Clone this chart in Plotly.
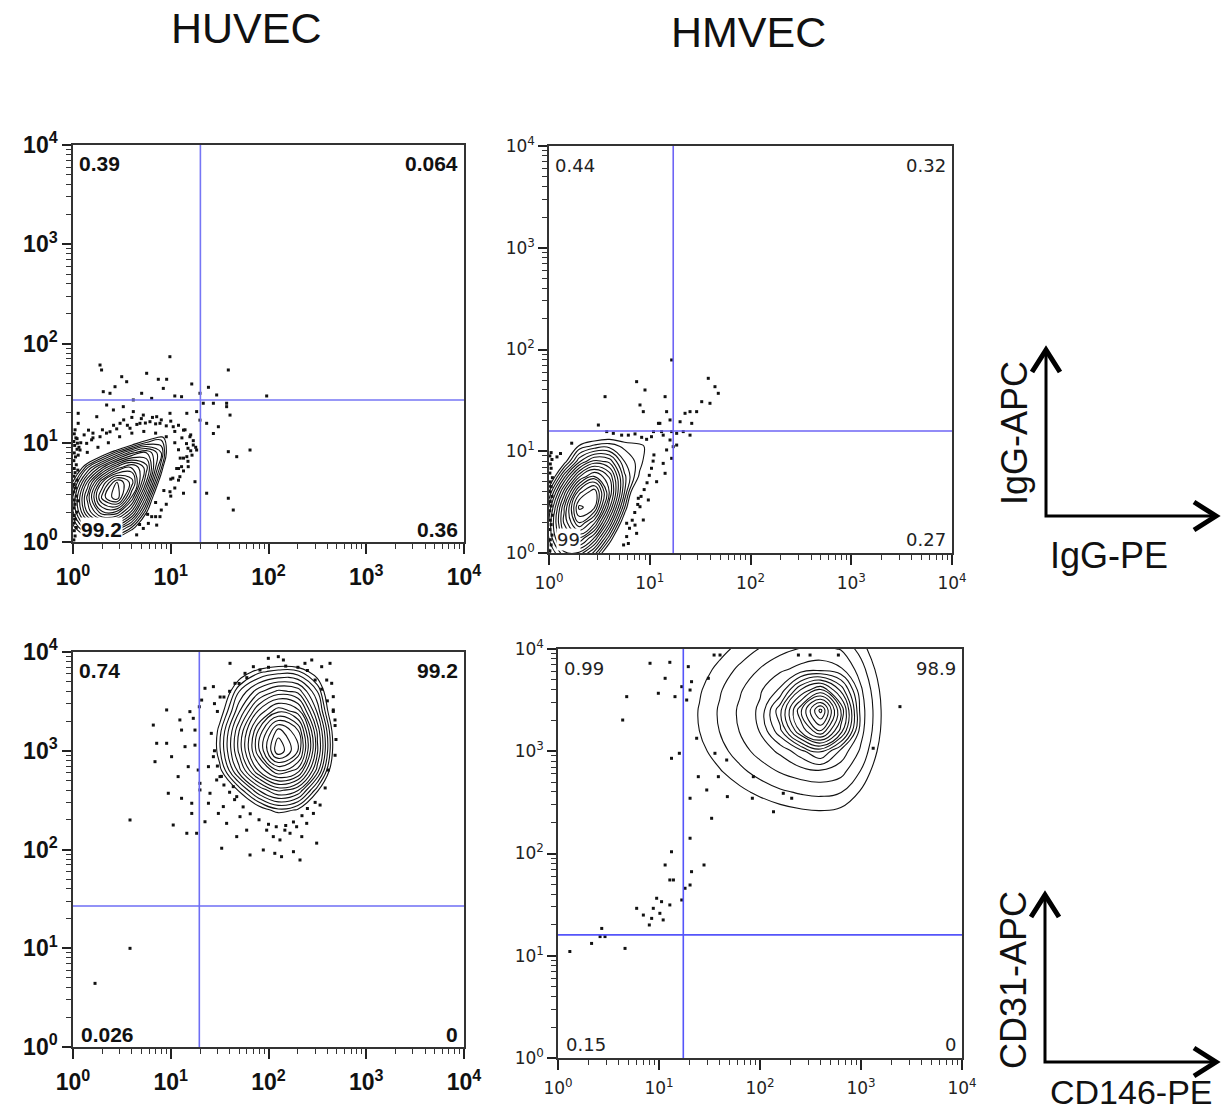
import plotly.graph_objects as go

W, H = 1231, 1116

# ---------------- data ----------------
TICK_VALS = [1, 10, 100, 1000, 10000]
TICK_TEXT = ["10<sup>0</sup>", "10<sup>1</sup>", "10<sup>2</sup>", "10<sup>3</sup>", "10<sup>4</sup>"]
MINOR_VALS = [2, 3, 4, 5, 6, 7, 8, 9, 20, 30, 40, 50, 60, 70, 80, 90,
              200, 300, 400, 500, 600, 700, 800, 900,
              2000, 3000, 4000, 5000, 6000, 7000, 8000, 9000]

COLUMN_TITLES = ["HUVEC", "HMVEC"]
ROW_X_LABELS = ["IgG-PE", "CD146-PE"]
ROW_Y_LABELS = ["IgG-APC", "CD31-APC"]

# quadrant percentages: upper-left, upper-right, lower-left, lower-right
P1_QUAD = ["0.39", "0.064", "99.2", "0.36"]
P2_QUAD = ["0.44", "0.32", "99", "0.27"]
P3_QUAD = ["0.74", "99.2", "0.026", "0"]
P4_QUAD = ["0.99", "98.9", "0.15", "0"]

# quadrant gates (x, y)
P1_GATE = [20.1, 27.0]
P2_GATE = [17.1, 15.8]
P3_GATE = [19.6, 26.8]
P4_GATE = [17.4, 16.0]

# ---- estimated density grids (rows = y, columns = x) ----
P1_GX = [0.708, 1, 1.413, 1.995, 2.818, 3.981, 5.623, 7.943, 11.22, 15.85]
P1_GY = [0.708, 1, 1.413, 1.995, 2.818, 3.981, 5.623, 7.943, 11.22, 15.85]
P1_Z = [
    [-11.5, -8.6, -6.9, -6.7, -7.9, -10.4, -14, -18, -23, -32],
    [-7.6, -3.8, -1.3, -0.4, -1.6, -4.3, -8.3, -13, -21, -31],
    [-4.8, 0.1, 3.8, 5.6, 4.8, 1.6, -2.9, -10, -19, -30],
    [-3.4, 2.4, 7.7, 11.3, 11.1, 7.2, 0.7, -7.3, -17, -29],
    [-3.7, 2.6, 8.9, 15.0, 17.3, 11.4, 4.2, -4.3, -14.6, -27],
    [-5.6, 0.7, 6.8, 12.6, 16.6, 14.1, 7.4, -1.1, -11.8, -26],
    [-8.8, -3.0, 2.5, 6.4, 10.0, 11.8, 9.0, 1.9, -8.6, -23],
    [-13, -7.6, -4.3, -1.1, 2.2, 5.2, 6.5, 3.7, -5, -20],
    [-17.7, -15, -12.8, -10, -7.3, -4.1, -0.8, 1.1, -2.0, -15],
    [-26, -24, -23, -21, -19, -16, -13, -8.7, -4.8, -9],
]

P2_GX = [0.708, 1, 1.413, 1.995, 2.818, 3.981, 5.623, 7.943, 11.22, 15.85]
P2_GY = [0.501, 0.708, 1, 1.413, 1.995, 2.818, 3.981, 5.623, 7.943, 11.22, 15.85]
P2_Z = [
    [-4.9, -2.2, -1.3, -2.7, -5.9, -10.6, -16, -22, -28, -35],
    [-2.8, 0.8, 2.6, 1.8, -1.4, -6.3, -12, -18, -25, -31],
    [-1.5, 3.2, 6.2, 6.3, 3.1, -2.1, -8.1, -14.6, -21, -28],
    [-1.1, 4.6, 9.1, 10.6, 7.5, 1.9, -4.5, -11.2, -18, -25],
    [-1.6, 4.8, 10.7, 14.6, 11.8, 5.6, -1.2, -8.1, -15, -22],
    [-2.9, 3.7, 10.4, 16.8, 15.7, 8.7, 1.6, -5.5, -12.6, -19.8],
    [-5.1, 1.5, 8.0, 14.1, 16.3, 10.4, 3.5, -3.6, -10.7, -17.8],
    [-8.1, -1.8, 4.2, 9.4, 11.9, 9.4, 3.8, 0.2, -6, -14],
    [-11.6, -5.7, -0.2, 4.3, 6.9, 6.2, 2.5, 1.0, -1.5, -8],
    [-15.6, -10, -5, 0.8, 1.8, 2.1, 1.2, 0.9, -0.5, -8],
    [-19.9, -14.6, -9.9, -4, -2, -1.5, -1.5, -2, -4, -10],
]

P3_GX = [19.95, 31.62, 50.12, 79.43, 125.9, 199.5, 316.2, 501.2, 794.3]
P3_GY = [158.5, 251.2, 398.1, 631.0, 1000, 1585, 2512, 3981, 6310, 10000]
P3_Z = [
    [-14, -10.3, -7.2, -5.0, -4.0, -4.5, -7.3, -11.9, -17.7],
    [-10.3, -6.1, -3.5, -0.5, 1.2, 0.3, -3.5, -8.0, -14.5],
    [-7.3, -3.2, 0.8, 4.5, 6.8, 5.6, 0.8, -4.8, -11.9],
    [-5.2, 0.0, 5.1, 9.6, 12.5, 11.1, 5.0, -2.4, -10.1],
    [-4.2, 1.3, 6.8, 12.3, 17.4, 14.5, 6.7, -1.3, -9.2],
    [-4.4, 1.1, 6.5, 11.7, 16.0, 13.7, 6.3, -1.5, -9.4],
    [-5.6, -0.5, 4.4, 8.7, 11.3, 10.0, 4.3, -2.8, -10.4],
    [-7.7, -2.0, 2.5, 5.2, 6.8, 6.2, 2.5, -3.5, -12.0],
    [-10.4, -5.0, -0.8, 1.2, 2.0, 1.8, -0.5, -6.0, -14.0],
    [-13.7, -10, -6.9, -4.7, -3.6, -4.1, -7.0, -11.7, -17.5],
]

P4_GX = [15.85, 25.12, 39.81, 63.10, 100, 158.5, 251.2, 398.1, 631.0, 1000, 1585, 2512]
P4_GY = [158.5, 251.2, 398.1, 631.0, 1000, 1585, 2512, 3981, 6310, 10000, 15850]
P4_Z = [
    [-3.55, -3.0, -2.5, -2.07, -1.71, -1.42, -1.24, -1.15, -1.29, -1.96, -3.05, -4.42],
    [-2.75, -2.14, -1.58, -1.09, -0.66, -0.33, -0.11, -0.01, -0.17, -0.96, -2.19, -3.69],
    [-2.03, -1.36, -0.74, -0.16, 0.33, 0.74, 1.01, 1.14, 0.93, -0.01, -1.42, -3.05],
    [-1.43, -0.70, 0.0, 0.66, 1.25, 1.76, 2.12, 2.29, 2.0, 0.83, -0.76, -2.54],
    [-0.99, -0.20, 0.57, 1.32, 2.03, 2.67, 3.8, 5.1, 3.05, 1.53, -0.27, -2.15],
    [-0.73, 0.10, 0.92, 1.74, 2.55, 4.68, 8.2, 10.6, 7.0, 1.97, 0.03, -1.94],
    [-0.68, 0.16, 1.0, 1.84, 2.67, 5.5, 9.5, 13.2, 8.1, 2.07, 0.09, -1.89],
    [-0.82, -0.01, 0.80, 1.6, 2.37, 3.45, 6.5, 8.2, 5.5, 1.82, -0.07, -2.0],
    [-1.14, -0.37, 0.37, 1.09, 1.75, 2.33, 2.77, 2.99, 2.63, 1.28, -0.44, -2.28],
    [-1.62, -0.91, -0.23, 0.39, 0.95, 1.42, 1.75, 1.90, 1.65, 0.56, -0.97, -2.69],
    [-2.23, -1.58, -0.97, -0.42, 0.05, 0.43, 0.69, 0.81, 0.62, -0.28, -1.63, -3.22],
]

# ---- outlier events (x, y) ----
P1_DOTS = [
    (9.8, 73.6), (1.89, 60.7), (1.96, 54.1), (5.67, 50.1), (3.15, 46.3), (7.46, 43.6), (9.08, 43.6),
    (38.8, 54.1), (3.54, 41.2), (2.69, 36.7), (16.4, 39.1), (24.3, 36.2), (8.39, 35.3), (5.04, 31.5),
    (29.5, 30.3), (11.0, 29.6), (19.9, 31.5), (95.8, 29.6), (2.39, 31.5), (2.04, 32.7), (4.14, 27.0),
    (6.38, 28.0), (12.9, 29.1), (21.5, 25.0), (27.3, 25.0), (37.3, 23.1), (40.4, 19.0), (37.3, 25.0),
    (18.4, 20.6), (23.3, 15.7), (30.7, 14.5), (27.3, 12.4), (19.9, 16.9), (14.6, 19.8), (9.82, 19.8),
    (7.18, 18.3), (5.24, 19.0), (4.14, 20.6), (3.27, 23.1), (2.59, 21.4), (2.21, 24.0), (1.75, 18.3),
    (1.44, 13.4), (1.13, 19.8), (1.13, 15.7), (1.18, 8.45), (1.38, 9.86), (1.55, 10.7), (1.89, 11.5),
    (2.39, 12.9), (3.03, 15.7), (3.83, 14.0), (4.84, 15.7), (6.13, 16.3), (7.76, 15.7), (10.6, 14.5),
    (13.5, 13.4), (15.7, 11.5), (17.0, 9.49), (18.4, 8.45), (14.6, 7.24), (12.9, 5.74), (12.4, 4.55),
    (15.1, 5.74), (17.7, 4.05), (13.5, 3.10), (9.82, 3.21), (23.3, 3.10), (38.8, 8.13), (47.3, 7.24),
    (64.7, 8.45), (38.8, 2.76), (43.6, 2.10), (7.76, 1.80), (7.18, 1.48), (5.90, 1.54), (5.24, 1.37),
    (4.48, 1.18), (6.38, 1.80),
    (1.3, 12), (1.6, 12.5), (2.0, 13.5), (2.6, 15), (3.3, 17), (4.0, 18), (5, 17.5), (6.5, 18), (8, 17),
    (10, 16.5), (12, 15), (14, 13.5), (16, 12), (17, 10.5), (18, 9), (16.5, 7.5), (15, 6.5), (13.5, 5.2),
    (12, 4.2), (11, 3.5), (10, 2.9), (9, 2.4), (8, 2.1), (7, 1.8), (1.1, 11), (1.2, 10), (1.15, 9),
    (1.6, 11.2), (2.2, 12.5), (2.8, 13.8), (3.6, 15), (4.5, 15.3), (5.5, 15.8), (7, 15.5), (9, 14.8),
    (11, 13), (13, 11.2), (14.5, 9.8), (16, 8.3), (15, 8.8), (13.5, 7), (12, 5.5), (10.5, 4.4),
    (1.4, 8), (1.8, 9), (2.3, 10), (3, 11.5), (4, 12.5), (5.3, 13), (7, 12.5), (9, 11.5), (11, 10),
    (12, 8.5), (12.5, 7), (11.5, 5.5), (10, 4.3), (8.5, 3.3), (7, 2.5), (5.8, 1.9), (4.8, 1.5),
    (1.02, 1.05), (1.05, 1.15), (1.03, 1.3), (1.08, 1.4), (1.02, 1.55), (1.06, 1.7), (1.03, 1.85),
    (1.09, 2.0), (1.02, 2.2), (1.05, 2.4), (1.03, 2.65), (1.08, 2.9), (1.02, 3.2), (1.06, 3.5),
    (1.03, 3.8), (1.1, 4.2), (1.02, 4.6), (1.05, 5.0), (1.03, 5.5), (1.08, 6.0), (1.02, 6.6),
    (1.06, 7.2), (1.03, 7.9), (1.1, 8.6), (1.04, 9.4), (1.02, 10.3), (1.07, 11.2), (1.03, 12.3),
    (1.05, 13.5), (1.12, 2.6), (1.12, 5.3), (1.13, 7.5), (1.11, 9.9),
]

P2_DOTS = [
    (16.5, 78.9), (7.41, 48.3), (8.97, 40.0), (3.60, 34.4), (14.2, 34.4), (38.1, 52.1), (44.4, 43.1),
    (47.9, 37.1), (39.6, 29.6), (32.8, 30.7), (8.0, 28.5), (8.63, 24.5), (14.7, 24.5), (22.4, 23.6),
    (25.1, 24.5), (29.2, 24.5), (26.1, 18.8), (20.0, 19.5), (15.9, 20.3), (12.6, 18.8), (10.9, 15.6),
    (12.2, 18.8), (16.5, 15.6), (18.5, 15.0), (21.5, 15.6), (25.1, 14.4), (3.09, 18.1), (3.74, 15.6),
    (4.35, 15.0), (5.26, 14.4), (6.13, 14.4), (7.14, 14.8), (8.31, 13.7), (9.31, 13.1), (1.68, 12.0),
    (14.7, 10.3), (17.1, 11.1), (16.5, 8.52), (13.6, 7.60), (14.2, 6.07), (11.7, 5.02), (9.68, 3.32),
    (7.70, 3.45), (8.0, 2.85), (8.63, 2.11), (7.14, 1.88), (7.41, 1.56), (6.13, 1.24), (5.90, 1.96),
    (18.5, 11.5), (15.9, 12.9), (13.6, 14.4), (13.1, 15.6), (10.4, 13.9),
    (11, 9.2), (10.8, 8), (10.4, 6.8), (9.9, 5.8), (9.4, 4.9), (8.8, 4.2), (8.2, 3.6), (7.6, 3.0),
    (7.1, 2.5), (6.7, 2.1), (6.3, 1.75), (5.9, 1.45), (5.5, 1.2),
    (1.02, 1.05), (1.05, 1.2), (1.03, 1.35), (1.07, 1.5), (1.02, 1.7), (1.05, 1.9), (1.03, 2.1),
    (1.08, 2.35), (1.02, 2.6), (1.05, 2.9), (1.03, 3.2), (1.07, 3.6), (1.02, 4.0), (1.05, 4.5),
    (1.03, 5.0), (1.08, 5.5), (1.02, 6.1), (1.05, 6.8), (1.03, 7.5), (1.07, 8.3), (1.02, 9.0),
    (1.05, 9.7), (1.3, 9.5), (1.2, 8.8),
]

P3_DOTS = [
    (1.68, 4.41), (3.83, 9.98), (3.83, 199), (6.63, 1820), (7.18, 1190), (6.90, 775), (9.08, 2590),
    (9.08, 1190), (9.44, 371), (10.2, 871), (10.6, 177), (11.9, 547), (12.4, 2050), (12.9, 1620),
    (12.9, 330), (14.0, 1100), (14.6, 146), (15.1, 690), (15.7, 2490), (16.4, 294), (16.4, 232),
    (17.0, 2130), (17.7, 1620), (17.7, 1140), (18.4, 146), (19.1, 638), (19.6, 2790), (19.9, 468),
    (19.9, 401), (20.7, 3260), (22.4, 4290), (22.4, 191), (24.3, 690), (24.3, 294), (25.2, 371),
    (27.3, 4460), (27.3, 871), (29.5, 506), (30.7, 232), (31.9, 547), (33.2, 103), (34.5, 272),
    (37.3, 184), (40.4, 7680), (43.6, 433), (45.4, 4820), (47.3, 135), (47.3, 343), (51.1, 215),
    (57.5, 6080), (59.8, 157), (64.7, 88.0), (70.0, 7100), (81.8, 6570), (88.5, 98.9), (95.8, 157),
    (99.6, 8630), (112, 135), (116, 91.5), (126, 8970), (131, 125), (136, 84.6), (142, 8300),
    (147, 157), (166, 146), (180, 95.0), (194, 170), (210, 78.3), (219, 135), (236, 7680), (246, 184),
    (277, 8300), (288, 232), (311, 116), (337, 282), (350, 7100), (409, 638), (426, 7680), (443, 4820),
    (460, 2590), (479, 2050), (460, 3530), (394, 5200),
    (28, 3000), (30, 2500), (32, 3500), (26, 1500), (28, 1000), (30, 700), (33, 550), (35, 450),
    (40, 380), (45, 320), (55, 270), (65, 230), (80, 200), (100, 180), (120, 170), (150, 175),
    (180, 190), (220, 220), (250, 260), (300, 300), (380, 420), (480, 900), (490, 1300), (480, 1800),
    (460, 2500), (400, 3200), (350, 4200), (300, 5200), (250, 6500), (200, 7000), (150, 7200),
    (100, 7000), (60, 5500), (50, 4800), (40, 4000), (35, 3500),
]

P4_DOTS = [
    (1.31, 11.0), (2.15, 13.2), (2.61, 15.4), (2.71, 18.5), (2.92, 15.4), (4.61, 11.8), (6.01, 29.1),
    (7.0, 25.0), (8.02, 20.0), (8.46, 23.2), (8.78, 29.1), (9.48, 36.5), (10.2, 26.0), (10.6, 33.8),
    (11.0, 22.4), (12.8, 31.4), (12.8, 55.1), (13.9, 55.1), (11.5, 77.2), (13.3, 104), (16.8, 35.1),
    (18.1, 45.7), (20.3, 49.2), (20.3, 141), (21.0, 66.4), (27.9, 77.2), (33.2, 221), (20.3, 347),
    (13.3, 853), (15.9, 955), (4.37, 2020), (4.79, 3420), (9.85, 3690), (14.4, 3420), (11.5, 5170),
    (8.15, 7250), (12.8, 7410), (19.5, 6720), (16.8, 4280), (18.8, 3170), (20.3, 3970), (21.0, 4790),
    (23.6, 1340), (24.5, 564), (29.7, 418), (38.7, 564), (47.5, 360), (84.0, 347), (136, 256),
    (2430, 2730), (1320, 1070), (35.8, 955), (46.8, 821), (85.9, 564), (170, 388), (206, 347),
    (30.8, 5170), (35.1, 8730), (40.2, 8730), (597, 8730), (313, 8730), (240, 8730),
]

# ---------------- figure ----------------
FONT_HU = "Liberation Sans, Arial, sans-serif"
FONT_HM = "DejaVu Sans, Verdana, sans-serif"

fig = go.Figure()

panels = [
    dict(gx=P1_GX, gy=P1_GY, z=P1_Z, lev=(0.5, 17.0, 1.0), dots=P1_DOTS, gate=P1_GATE, quad=P1_QUAD,
         gcol="rgb(118,118,245)", style="hu"),
    dict(gx=P2_GX, gy=P2_GY, z=P2_Z, lev=(0.5, 16.5, 1.0), dots=P2_DOTS, gate=P2_GATE, quad=P2_QUAD,
         gcol="rgb(110,100,245)", style="hm"),
    dict(gx=P3_GX, gy=P3_GY, z=P3_Z, lev=(0.5, 17.0, 1.0), dots=P3_DOTS, gate=P3_GATE, quad=P3_QUAD,
         gcol="rgb(110,110,245)", style="hu"),
    dict(gx=P4_GX, gy=P4_GY, z=P4_Z, lev=(0.1, 13.1, 0.8), dots=P4_DOTS, gate=P4_GATE, quad=P4_QUAD,
         gcol="rgb(85,85,250)", style="hm"),
]

# pixel boxes of the four plot areas: left, right, top, bottom
BOXES = [(73, 464, 145, 542), (549, 952, 146, 553), (73, 464, 652, 1047), (558, 962, 649, 1058)]

layout_axes = {}
annotations = []
for i, p in enumerate(panels, start=1):
    xs = "x" if i == 1 else f"x{i}"
    ys = "y" if i == 1 else f"y{i}"
    fig.add_trace(go.Contour(
        x=p["gx"], y=p["gy"], z=p["z"], xaxis=xs, yaxis=ys,
        autocontour=False,
        contours=dict(start=p["lev"][0], end=p["lev"][1], size=p["lev"][2], coloring="lines"),
        colorscale=[[0, "#111111"], [1, "#111111"]], showscale=False,
        line=dict(width=1.1, smoothing=1.2), hoverinfo="skip"))
    fig.add_trace(go.Scatter(
        x=[d[0] for d in p["dots"]], y=[d[1] for d in p["dots"]], xaxis=xs, yaxis=ys,
        mode="markers", marker=dict(symbol="square", size=3, color="#111111"),
        hoverinfo="skip", showlegend=False))
    gx, gy = p["gate"]
    fig.add_trace(go.Scatter(
        x=[gx, gx, None, TICK_VALS[0], TICK_VALS[-1]], y=[TICK_VALS[0], TICK_VALS[-1], None, gy, gy],
        xaxis=xs, yaxis=ys, mode="lines", line=dict(color=p["gcol"], width=1.6),
        hoverinfo="skip", showlegend=False))

    l, r, t, b = BOXES[i - 1]
    if p["style"] == "hu":
        tfont = dict(family=FONT_HU, size=23, color="#111", weight="bold")
        qfont = dict(family=FONT_HU, size=21, color="#111", weight="bold")
    else:
        tfont = dict(family=FONT_HM, size=17, color="#222")
        qfont = dict(family=FONT_HM, size=18, color="#222")
    common = dict(type="log", range=[0, 4], tickmode="array", tickvals=TICK_VALS, ticktext=TICK_TEXT,
                  ticks="outside", tickwidth=1.5, tickcolor="#222", showline=True, linecolor="#333",
                  linewidth=1.5, mirror=True, showgrid=False, zeroline=False, tickfont=tfont,
                  automargin=False,
                  minor=dict(tickmode="array", tickvals=MINOR_VALS, ticks="outside", ticklen=5,
                             tickwidth=1, tickcolor="#333", showgrid=False))
    layout_axes["xaxis" if i == 1 else f"xaxis{i}"] = dict(
        common, domain=[l / W, r / W], anchor=ys, ticklen=10, ticklabelstandoff=4)
    layout_axes["yaxis" if i == 1 else f"yaxis{i}"] = dict(
        common, domain=[1 - b / H, 1 - t / H], anchor=xs, ticklen=9)

    q = p["quad"]
    for txt, xx, yy, xa_, bg in [(q[0], 0.012, 0.953, "left", None), (q[1], 0.988, 0.953, "right", None),
                                  (q[2], 0.018, 0.032, "left", "white"), (q[3], 0.988, 0.032, "right", None)]:
        annotations.append(dict(text=txt, xref=f"{xs} domain", yref=f"{ys} domain", x=xx, y=yy,
                                xanchor=xa_, yanchor="middle", showarrow=False, font=qfont,
                                bgcolor=bg, borderpad=0))

# column titles
annotations.append(dict(text=COLUMN_TITLES[0], xref="paper", yref="paper", x=246 / W, y=1 - 28 / H,
                        xanchor="center", yanchor="middle",
                        showarrow=False, font=dict(family=FONT_HU, size=43, color="#111")))
annotations.append(dict(text=COLUMN_TITLES[1], xref="paper", yref="paper", x=748 / W, y=1 - 32 / H,
                        xanchor="center", yanchor="middle",
                        showarrow=False, font=dict(family=FONT_HU, size=43, color="#111")))

# axis key labels
lab_font = dict(family=FONT_HU, size=36, color="#111")
annotations += [
    dict(text=ROW_Y_LABELS[0], xref="paper", yref="paper", x=1014 / W, y=1 - 433 / H, textangle=-90,
         xanchor="center", yanchor="middle", showarrow=False, font=lab_font),
    dict(text=ROW_X_LABELS[0], xref="paper", yref="paper", x=1109 / W, y=1 - 556 / H,
         xanchor="center", yanchor="middle", showarrow=False, font=lab_font),
    dict(text=ROW_Y_LABELS[1], xref="paper", yref="paper", x=1013 / W, y=1 - 980 / H, textangle=-90,
         xanchor="center", yanchor="middle", showarrow=False, font=lab_font),
    dict(text=ROW_X_LABELS[1], xref="paper", yref="paper", x=1048 / W, y=1 - 1092 / H,
         xanchor="left", yanchor="middle", showarrow=False,
         font=dict(family=FONT_HU, size=34, color="#111")),
]


def P(x, y):
    return f"{x / W:.5f},{1 - y / H:.5f}"


def key_arrows(ox, oy, top, right):
    shp = []
    shp.append(dict(type="path", xref="paper", yref="paper",
                    path=f"M{P(ox, top)} L{P(ox, oy)} L{P(right, oy)}",
                    line=dict(color="black", width=3)))
    shp.append(dict(type="path", xref="paper", yref="paper",
                    path=f"M{P(ox - 14, top + 23)} L{P(ox, top + 1)} L{P(ox + 14, top + 23)}",
                    line=dict(color="black", width=5)))
    shp.append(dict(type="path", xref="paper", yref="paper",
                    path=f"M{P(right - 23, oy - 14)} L{P(right - 1, oy)} L{P(right - 23, oy + 14)}",
                    line=dict(color="black", width=5)))
    return shp


shapes = key_arrows(1046, 516, 349, 1217) + key_arrows(1045, 1062, 894, 1217)

fig.update_layout(
    width=W, height=H, margin=dict(l=0, r=0, t=0, b=0, pad=0, autoexpand=False),
    paper_bgcolor="white", plot_bgcolor="white", showlegend=False,
    annotations=annotations, shapes=shapes, **layout_axes)

fig.write_html("out.html", config={"displayModeBar": False},
               post_script="document.body.style.margin='0px';")
